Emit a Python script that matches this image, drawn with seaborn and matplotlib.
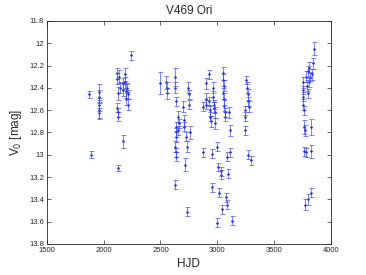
import numpy as np
import pandas as pd
import matplotlib
matplotlib.use('Agg')
import matplotlib.pyplot as plt
import seaborn as sns

# V469 Ori lichtkurve
hjd = [1872, 1887,
       1958, 1960, 1962, 1960, 1963,
       2115, 2118, 2122, 2120, 2125, 2128, 2130, 2135, 2140, 2170, 2172, 2168,
       2185, 2190, 2195, 2200, 2205, 2210, 2215, 2237,
       2495, 2550, 2555, 2558,
       2625, 2630, 2636, 2636, 2640, 2638, 2630, 2633, 2640, 2630, 2656, 2660,
       2655, 2700, 2705, 2710, 2715, 2730, 2728, 2732, 2745, 2748, 2750, 2762,
       2876, 2875, 2900, 2905, 2898, 2923, 2930, 2935, 2938, 2942, 2950, 2950,
       2960, 2965, 2968, 2975, 2979, 2982, 2994, 2994, 3005, 3015, 3030, 3035,
       3038, 3047, 3050, 3055, 3052, 3058, 3060, 3065, 3070, 3081, 3085, 3090,
       3095, 3105, 3111, 3110, 3126,
       3243, 3245, 3245, 3255, 3262, 3268, 3275, 3283, 3270, 3293,
       3752, 3755, 3758, 3756, 3760, 3765, 3762, 3768, 3775, 3778, 3785, 3790,
       3795, 3800, 3805, 3800, 3810, 3815, 3821, 3821, 3825, 3830, 3839, 3850]
v0 = [12.46, 13.00,
      12.44, 12.48, 12.55, 12.60, 12.63,
      12.27, 12.32, 12.45, 12.58, 12.62, 13.12, 12.66, 12.30, 12.40, 12.36, 12.42, 12.88,
      12.28, 12.35, 12.43, 12.50, 12.40, 12.55, 12.46, 12.11,
      12.36, 12.35, 12.40, 12.45,
      12.30, 12.40, 12.52, 12.75, 12.80, 12.84, 12.93, 12.98, 13.02, 13.27, 12.66, 12.72,
      12.78, 12.57, 12.69, 12.75, 13.09, 13.51, 12.84, 12.93, 12.40, 12.46, 12.55, 12.80,
      12.57, 12.98, 12.36, 12.50, 12.55, 12.28, 12.52, 12.60, 12.66, 12.70, 12.99, 13.29,
      12.40, 12.48, 12.58, 12.55, 12.62, 12.72, 12.93, 13.61, 13.11, 13.34, 13.15, 13.18,
      13.49, 12.27, 12.33, 12.38, 12.45, 12.50, 12.56, 12.62, 12.66, 13.38, 13.45, 13.02,
      13.17, 12.62, 12.78, 12.98, 13.59,
      12.60, 12.66, 12.78, 12.33, 12.40, 12.46, 12.52, 12.57, 13.00, 13.05,
      12.35, 12.42, 12.48, 12.55, 12.60, 12.75, 12.97, 13.45, 12.78, 12.98, 12.30, 12.38,
      12.45, 12.25, 12.35, 13.40, 12.22, 12.30, 13.34, 12.97, 12.75, 12.28, 12.18, 12.05]
err = [0.03, 0.03,
       0.07, 0.06, 0.06, 0.07, 0.05,
       0.05, 0.05, 0.06, 0.04, 0.04, 0.03, 0.04, 0.06, 0.05, 0.05, 0.05, 0.06,
       0.06, 0.05, 0.06, 0.05, 0.04, 0.05, 0.04, 0.04,
       0.10, 0.06, 0.05, 0.05,
       0.08, 0.05, 0.04, 0.04, 0.04, 0.05, 0.05, 0.04, 0.04, 0.04, 0.05, 0.04,
       0.04, 0.05, 0.05, 0.04, 0.06, 0.04, 0.04, 0.05, 0.05, 0.04, 0.04, 0.06,
       0.04, 0.04, 0.05, 0.05, 0.04, 0.04, 0.04, 0.05, 0.04, 0.05, 0.04, 0.04,
       0.05, 0.05, 0.05, 0.04, 0.05, 0.05, 0.04, 0.04, 0.04, 0.04, 0.04, 0.04,
       0.04, 0.06, 0.05, 0.05, 0.05, 0.05, 0.05, 0.04, 0.04, 0.04, 0.04, 0.04,
       0.04, 0.05, 0.05, 0.04, 0.04,
       0.04, 0.04, 0.04, 0.04, 0.05, 0.05, 0.04, 0.05, 0.04, 0.04,
       0.05, 0.04, 0.04, 0.05, 0.04, 0.06, 0.04, 0.05, 0.05, 0.04, 0.05, 0.05,
       0.04, 0.05, 0.04, 0.05, 0.05, 0.04, 0.04, 0.06, 0.07, 0.05, 0.05, 0.06]

df = pd.DataFrame({'HJD': hjd, 'V0': v0, 'err': err})

sns.set_style('ticks')
plt.rcParams['font.family'] = ['Liberation Sans', 'DejaVu Sans']

fig = plt.figure(figsize=(3.66, 2.75), dpi=100)
ax = fig.add_axes([0.128, 0.113, 0.776, 0.811])

ax.errorbar(df['HJD'], df['V0'], yerr=df['err'], fmt='none', ecolor='#3344ff',
            elinewidth=0.6, capsize=1.8, capthick=0.6, alpha=0.75)
sns.scatterplot(data=df, x='HJD', y='V0', ax=ax, color='#0000ff', s=3,
                linewidth=0, legend=False)

ax.set_xlim(1500, 4000)
ax.set_ylim(13.8, 11.8)
ax.set_xticks(np.arange(1500, 4001, 500))
ax.set_yticks(np.arange(11.8, 13.81, 0.2))
ax.set_yticklabels(['11.8', '12', '12.2', '12.4', '12.6', '12.8', '13',
                    '13.2', '13.4', '13.6', '13.8'])
ax.tick_params(direction='in', length=3, width=0.5, labelsize=5.5,
               top=True, right=True, pad=2)
for s in ax.spines.values():
    s.set_linewidth(0.6)

ax.set_xlabel('HJD', fontsize=8.5, labelpad=3)
ax.set_ylabel('V$_0$ [mag]', fontsize=8.5, labelpad=4)
ax.set_title('V469 Ori', fontsize=8.5, pad=5)

fig.savefig('out.png', dpi=100)
